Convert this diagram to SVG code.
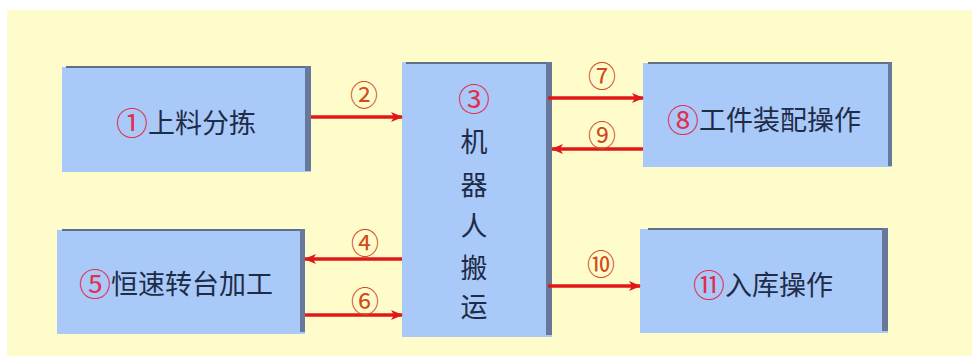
<svg xmlns="http://www.w3.org/2000/svg" width="972" height="356" viewBox="0 0 972 356">
<defs>
<style>
.box{fill:#A9C9F9;}
.top{fill:#5E6F88;}
.side{fill:#66799A;}
.t{font-family:"Noto Sans CJK SC","Noto Sans",sans-serif;font-size:27px;fill:#1E2C48;text-anchor:middle;dominant-baseline:central;}
.n{fill:#E0304E;font-size:32px;}
.lbl{font-family:"Noto Sans CJK SC","Noto Sans",sans-serif;font-size:28px;fill:#D24A1C;text-anchor:middle;dominant-baseline:central;}
.a{stroke:#E01818;stroke-width:3.5;fill:none;marker-end:url(#ah);}
</style>
<marker id="ah" viewBox="0 0 12 10" refX="11" refY="5" markerWidth="12" markerHeight="10" markerUnits="userSpaceOnUse" orient="auto">
<path d="M0,0 L12,5 L0,10 L3,5 Z" fill="#E01818"/>
</marker>
</defs>
<rect x="0" y="0" width="972" height="356" fill="#FFFFFF"/>
<rect x="7" y="10" width="965" height="346" fill="#FFFCCC"/>

<g id="n1">
<rect class="box" x="62" y="67" width="249" height="105"/>
<rect class="top" x="66" y="66" width="239" height="2"/>
<rect class="side" x="305" y="66" width="6" height="105"/>
<text class="t" x="186" y="121"><tspan class="n">①</tspan>上料分拣</text>
</g>

<g id="n3">
<rect class="box" x="402" y="62" width="150" height="275"/>
<rect class="top" x="406" y="62" width="142" height="2"/>
<rect class="side" x="546" y="62" width="6" height="273"/>
<text class="t" x="474" y="97"><tspan class="n">③</tspan></text>
<text class="t" x="474" y="140">机</text>
<text class="t" x="474" y="183">器</text>
<text class="t" x="474" y="224">人</text>
<text class="t" x="474" y="266">搬</text>
<text class="t" x="474" y="305">运</text>
</g>

<g id="n5">
<rect class="box" x="57" y="230" width="248" height="104"/>
<rect class="top" x="62" y="229" width="238" height="2"/>
<rect class="side" x="300" y="229" width="5" height="103"/>
<text class="t" x="176" y="282"><tspan class="n">⑤</tspan>恒速转台加工</text>
</g>

<g id="n8">
<rect class="box" x="643" y="63" width="249" height="104"/>
<rect class="top" x="648" y="62" width="240" height="2"/>
<rect class="side" x="888" y="62" width="4" height="104"/>
<text class="t" x="764" y="118"><tspan class="n">⑧</tspan>工件装配操作</text>
</g>

<g id="n11">
<rect class="box" x="640" y="229" width="248" height="104"/>
<rect class="top" x="648" y="228" width="236" height="2"/>
<rect class="side" x="882" y="228" width="6" height="103"/>
<text class="t" x="763" y="283"><tspan class="n">⑪</tspan>入库操作</text>
</g>

<g id="connectors">
<line class="a" x1="311" y1="117" x2="402" y2="117"/>
<line class="a" x1="548" y1="98" x2="643" y2="98"/>
<line class="a" x1="643" y1="149" x2="552" y2="149"/>
<line class="a" x1="402" y1="259" x2="305" y2="259"/>
<line class="a" x1="305" y1="315" x2="402" y2="315"/>
<line class="a" x1="548" y1="286" x2="640" y2="286"/>
<text class="lbl" x="364" y="94">②</text>
<text class="lbl" x="602" y="75">⑦</text>
<text class="lbl" x="602" y="134">⑨</text>
<text class="lbl" x="365" y="242">④</text>
<text class="lbl" x="365" y="300">⑥</text>
<text class="lbl" x="601" y="263">⑩</text>
</g>
</svg>
